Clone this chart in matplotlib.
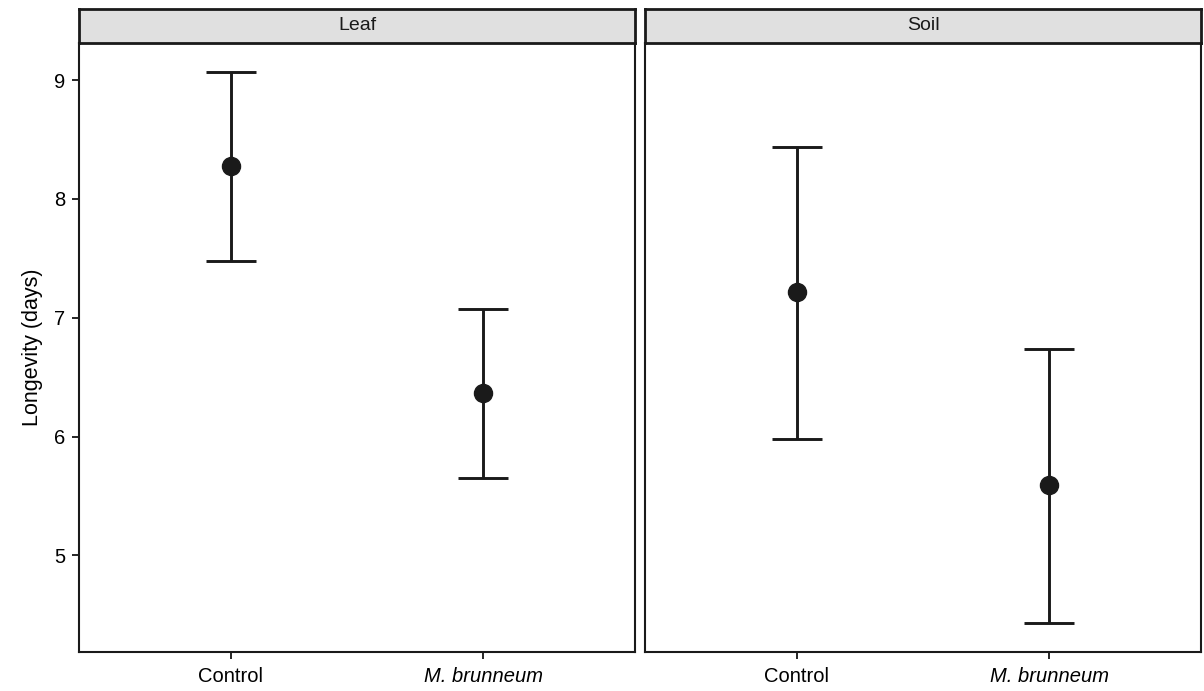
import numpy as np
import matplotlib.pyplot as plt

plt.rcParams['font.family'] = ['Liberation Sans', 'DejaVu Sans']

# data
panels = ["Leaf", "Soil"]
groups = ["Control", "M. brunneum"]
means = {"Leaf": [8.28, 6.37], "Soil": [7.22, 5.59]}
lower = {"Leaf": [7.48, 5.65], "Soil": [5.98, 4.43]}
upper = {"Leaf": [9.07, 7.07], "Soil": [8.44, 6.74]}
yticks = [5, 6, 7, 8, 9]

W, H = 1204, 691
fig = plt.figure(figsize=(W / 100, H / 100), dpi=100)

panel_x = [(79, 635), (645, 1201)]
top, bottom, strip_top = 43, 652, 9

for k, (name, (x0, x1)) in enumerate(zip(panels, panel_x)):
    ax = fig.add_axes([x0 / W, 1 - bottom / H, (x1 - x0) / W, (bottom - top) / H])
    xs = np.arange(1, len(groups) + 1)
    m = np.array(means[name])
    lo = m - np.array(lower[name])
    hi = np.array(upper[name]) - m
    ax.errorbar(xs, m, yerr=[lo, hi], fmt='none', ecolor='#1a1a1a',
                elinewidth=2.1, capsize=18, capthick=2.1)
    ax.plot(xs, m, 'o', color='#1a1a1a', markersize=13)
    ax.set_xlim(0.4, 2.6)
    ax.set_ylim(4.187, 9.313)
    ax.set_xticks(xs)
    ax.set_xticklabels(groups, fontsize=14.5)
    ax.get_xticklabels()[1].set_style('italic')
    ax.set_yticks(yticks)
    if k == 0:
        ax.set_yticklabels([str(v) for v in yticks], fontsize=14.5)
        ax.set_ylabel("Longevity (days)", fontsize=15.5, labelpad=8)
        ax.tick_params(axis='y', length=5, width=1.2, pad=5)
    else:
        ax.tick_params(axis='y', left=False, labelleft=False)
    ax.tick_params(axis='x', length=5, width=1.2, pad=6)
    for s in ax.spines.values():
        s.set_linewidth(1.5)
        s.set_color('#1a1a1a')

    sax = fig.add_axes([x0 / W, 1 - top / H, (x1 - x0) / W, (top - strip_top) / H])
    sax.set_facecolor('#e0e0e0')
    sax.set_xticks([])
    sax.set_yticks([])
    for s in sax.spines.values():
        s.set_linewidth(2)
        s.set_color('#1a1a1a')
    sax.text(0.5, 0.5, name, ha='center', va='center', fontsize=14,
             color='#1a1a1a', transform=sax.transAxes)

fig.savefig("out.png", dpi=100)
